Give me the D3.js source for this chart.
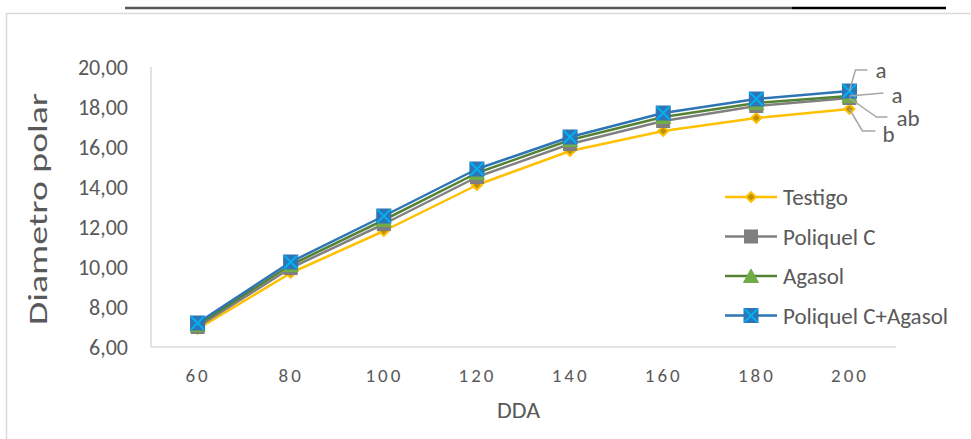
<!DOCTYPE html>
<html>
<head>
<meta charset="utf-8">
<script src="https://cdn.jsdelivr.net/npm/d3@7/dist/d3.min.js"></script>
<style>
  html, body { margin: 0; padding: 0; background: #fff; }
  svg { display: block; }
  text { font-family: Calibri, Carlito, Lato, "Open Sans", sans-serif; fill: #595959; }
</style>
</head>
<body>
<svg id="chart" width="971" height="439"></svg>
<script>
// Days after planting (DDA)
const categories = [60, 80, 100, 120, 140, 160, 180, 200];
// Polar diameter per treatment
const testigo   = [6.90, 9.70, 11.80, 14.10, 15.80, 16.80, 17.45, 17.90];
const poliquel  = [7.00, 9.95, 12.15, 14.50, 16.15, 17.30, 18.05, 18.45];
const agasol    = [7.10, 10.10, 12.35, 14.70, 16.35, 17.50, 18.20, 18.55];
const combinado = [7.20, 10.25, 12.55, 14.90, 16.50, 17.70, 18.40, 18.80];
const seriesNames = ["Testigo", "Poliquel C", "Agasol", "Poliquel C+Agasol"];
const yTicks = [6, 8, 10, 12, 14, 16, 18, 20];
// Significance letters at the last sampling date
const letters = ["b", "ab", "a", "a"];

const series = [
  { name: seriesNames[0], values: testigo,   line: "#FFC000", fill: "#BF9000", stroke: "#FFC000", marker: "diamond" },
  { name: seriesNames[1], values: poliquel,  line: "#808080", fill: "#7F7F7F", stroke: "#7F7F7F", marker: "square" },
  { name: seriesNames[2], values: agasol,    line: "#548235", fill: "#70AD47", stroke: "#70AD47", marker: "triangle" },
  { name: seriesNames[3], values: combinado, line: "#2E75B6", fill: "#2E75B6", stroke: "#2E75B6", marker: "xsquare" }
];

const svg = d3.select("#chart");

// outer frame and header rule
svg.append("rect").attr("x", 6.5).attr("y", 13.5).attr("width", 980).attr("height", 440)
  .attr("fill", "none").attr("stroke", "#d9d9d9").attr("stroke-width", 1.5);
svg.append("line").attr("x1", 125).attr("x2", 792).attr("y1", 8).attr("y2", 8)
  .attr("stroke", "#595959").attr("stroke-width", 2.5);
svg.append("line").attr("x1", 792).attr("x2", 946).attr("y1", 8).attr("y2", 8)
  .attr("stroke", "#000").attr("stroke-width", 2.5);

const plot = { left: 151, right: 896, top: 67, bottom: 347 };

const x = d3.scalePoint().domain(categories).range([plot.left, plot.right]).padding(0.5);
const y = d3.scaleLinear().domain([6, 20]).range([plot.bottom, plot.top]);

// axes lines
svg.append("line").attr("x1", plot.left).attr("x2", plot.left).attr("y1", plot.top).attr("y2", plot.bottom)
  .attr("stroke", "#d9d9d9").attr("stroke-width", 1.5);
svg.append("line").attr("x1", plot.left).attr("x2", plot.right).attr("y1", plot.bottom).attr("y2", plot.bottom)
  .attr("stroke", "#d9d9d9").attr("stroke-width", 1.5);

const fontStack = "Calibri, Carlito, Lato, 'Open Sans', sans-serif";

// y tick labels
const fmt = v => d3.format(".2f")(v).replace(".", ",");
const yAxis = d3.axisLeft(y).tickValues(yTicks).tickFormat(fmt).tickSize(0).tickPadding(0);
const gy = svg.append("g").attr("transform", `translate(${plot.left - 23},0)`).call(yAxis);
gy.select(".domain").remove();
gy.selectAll("text").attr("font-size", 22).attr("fill", "#595959").attr("dy", "0.36em")
  .style("font-family", fontStack);

// x tick labels
const xAxis = d3.axisBottom(x).tickSize(0).tickPadding(0);
const gx = svg.append("g").attr("transform", `translate(0,${plot.bottom + 21})`).call(xAxis);
gx.select(".domain").remove();
gx.selectAll("text").attr("font-size", 19).attr("fill", "#595959").attr("dy", "0.71em")
  .style("letter-spacing", "3px")
  .style("font-family", fontStack);

// axis titles
svg.append("text").attr("x", (plot.left + plot.right) / 2 - 5).attr("y", 418)
  .attr("text-anchor", "middle").attr("font-size", 22)
  .attr("textLength", 43).attr("lengthAdjust", "spacingAndGlyphs").text("DDA");
svg.append("text").attr("transform", `translate(47,${(plot.top + plot.bottom) / 2 + 2}) rotate(-90)`)
  .attr("text-anchor", "middle").attr("font-size", 27).attr("fill", "#5f5f5f")
  .attr("textLength", 232).attr("lengthAdjust", "spacingAndGlyphs").text("Diametro polar");

// marker drawing
function drawMarker(g, s, cx, cy) {
  if (s.marker === "diamond") {
    g.append("rect").attr("x", -3.5).attr("y", -3.5).attr("width", 7).attr("height", 7)
      .attr("transform", `translate(${cx},${cy}) rotate(45)`)
      .attr("fill", s.fill).attr("stroke", s.stroke).attr("stroke-width", 2);
  } else if (s.marker === "square") {
    g.append("rect").attr("x", cx - 6.5).attr("y", cy - 6.5).attr("width", 13).attr("height", 13)
      .attr("fill", s.fill).attr("stroke", s.stroke).attr("stroke-width", 1);
  } else if (s.marker === "triangle") {
    g.append("path").attr("d", `M${cx},${cy - 7}L${cx + 7.5},${cy + 6.5}L${cx - 7.5},${cy + 6.5}Z`)
      .attr("fill", s.fill).attr("stroke", s.stroke).attr("stroke-width", 1);
  } else {
    g.append("rect").attr("x", cx - 7).attr("y", cy - 7).attr("width", 14).attr("height", 14)
      .attr("fill", s.fill).attr("stroke", "#2E75B6").attr("stroke-width", 1);
    g.append("path").attr("d", `M${cx - 6.5},${cy - 6.5}L${cx + 6.5},${cy + 6.5}M${cx + 6.5},${cy - 6.5}L${cx - 6.5},${cy + 6.5}`)
      .attr("stroke", "#00B0F0").attr("stroke-width", 2);
  }
}

const line = d3.line().x((d, i) => x(categories[i])).y(d => y(d));

series.forEach(s => {
  const g = svg.append("g");
  g.append("path").datum(s.values).attr("d", line).attr("fill", "none")
    .attr("stroke", s.line).attr("stroke-width", 2.5).attr("stroke-linejoin", "round");
  s.values.forEach((v, i) => drawMarker(g, s, x(categories[i]), y(v)));
});

// significance labels with leader lines
const lastX = x(categories[categories.length - 1]);
const labelSpecs = [
  { si: 0, pts: [[0, 0], [13, 22], [26, 22]], tx: 33, ty: 33 },
  { si: 1, pts: [[0, 0], [27, 19], [38, 19]], tx: 47, ty: 28 },
  { si: 2, pts: [[0, 0], [34, -3]], tx: 42, ty: 7 },
  { si: 3, pts: [[0, 0], [6, -21], [18, -21]], tx: 26, ty: -13 }
];
labelSpecs.forEach(l => {
  const cy = y(series[l.si].values[categories.length - 1]);
  svg.append("polyline")
    .attr("points", l.pts.map(p => `${lastX + p[0]},${cy + p[1]}`).join(" "))
    .attr("fill", "none").attr("stroke", "#A6A6A6").attr("stroke-width", 1.5);
  svg.append("text").attr("x", lastX + l.tx).attr("y", cy + l.ty)
    .attr("font-size", 23).attr("fill", "#7F7F7F").text(letters[l.si]);
});

// legend
const legend = svg.append("g");
series.forEach((s, i) => {
  const ly = 197 + i * 39.5;
  legend.append("line").attr("x1", 725).attr("x2", 777).attr("y1", ly).attr("y2", ly)
    .attr("stroke", s.line).attr("stroke-width", 2.5);
  drawMarker(legend, s, 751, ly);
  legend.append("text").attr("x", 783).attr("y", ly + 8).attr("font-size", 23).text(s.name);
});
</script>
</body>
</html>
